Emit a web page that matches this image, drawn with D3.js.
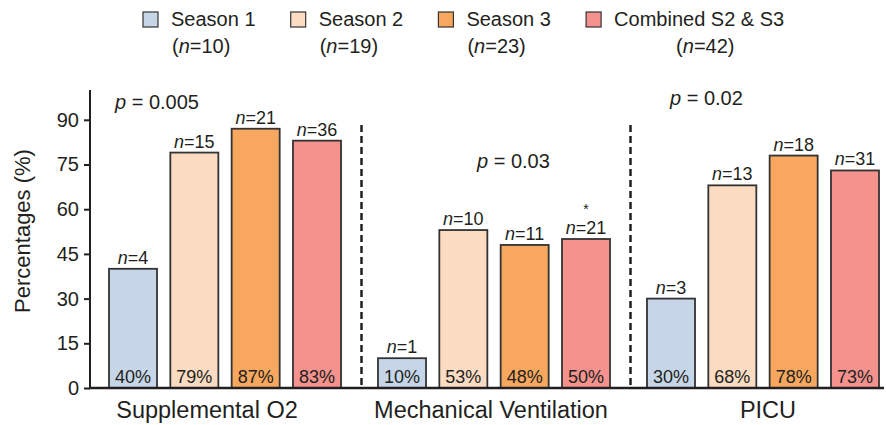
<!DOCTYPE html>
<html>
<head>
<meta charset="utf-8">
<script src="https://cdn.jsdelivr.net/npm/d3@7"></script>
<style>
  body { margin: 0; background: #fff; }
  text { font-family: "Liberation Sans", Arial, sans-serif; fill: #231f20; }
</style>
</head>
<body>
<div id="viz"></div>
<script>
// data
var categories = ['Supplemental O2', 'Mechanical Ventilation', 'PICU'];
var seriesNames = ['Season 1', 'Season 2', 'Season 3', 'Combined S2 & S3'];
var seriesTotals = [10, 19, 23, 42];
var season1 = [40, 10, 30];
var season2 = [79, 53, 68];
var season3 = [87, 48, 78];
var combined = [83, 50, 73];
var season1N = [4, 1, 3];
var season2N = [15, 10, 13];
var season3N = [21, 11, 18];
var combinedN = [36, 21, 31];
var pValues = ['0.005', '0.03', '0.02'];
var yTicks = [0, 15, 30, 45, 60, 75, 90];

var colors = ['#c6d6e8', '#fcdbc3', '#f8a85e', '#f5928e'];
var values = [season1, season2, season3, combined];
var counts = [season1N, season2N, season3N, combinedN];

var W = 886, H = 425;
var svg = d3.select('#viz').append('svg').attr('width', W).attr('height', H);

var y = d3.scaleLinear().domain([0, 100]).range([388, 90]);
var x0 = d3.scaleBand().domain(categories).range([109, 879]).paddingInner(0.1375);
var x1 = d3.scaleBand().domain(d3.range(seriesNames.length)).range([0, x0.bandwidth()]).paddingInner(0.217);

// flatten for drawing
var rows = [];
categories.forEach(function(c, ci) {
  seriesNames.forEach(function(s, si) {
    rows.push({ cat: c, ci: ci, si: si, v: values[si][ci], n: counts[si][ci] });
  });
});

// bars
svg.append('g').selectAll('rect').data(rows).enter().append('rect')
  .attr('x', function(d) { return x0(d.cat) + x1(d.si); })
  .attr('y', function(d) { return y(d.v); })
  .attr('width', x1.bandwidth())
  .attr('height', function(d) { return y(0) - y(d.v); })
  .attr('fill', function(d) { return colors[d.si]; })
  .attr('stroke', '#333')
  .attr('stroke-width', 1.8);

// percent labels inside bars
svg.append('g').selectAll('text').data(rows).enter().append('text')
  .attr('x', function(d) { return x0(d.cat) + x1(d.si) + x1.bandwidth() / 2; })
  .attr('y', 383)
  .attr('text-anchor', 'middle')
  .attr('font-size', 18)
  .text(function(d) { return d.v + '%'; });

// n labels above bars
var nl = svg.append('g').selectAll('text').data(rows).enter().append('text')
  .attr('x', function(d) { return x0(d.cat) + x1(d.si) + x1.bandwidth() / 2; })
  .attr('y', function(d) { return y(d.v) - 5; })
  .attr('text-anchor', 'middle')
  .attr('font-size', 18);
nl.append('tspan').attr('font-style', 'italic').text('n');
nl.append('tspan').text(function(d) { return '=' + d.n; });

// asterisk over combined mechanical ventilation
var star = rows.filter(function(d) { return d.ci === 1 && d.si === 3; })[0];
svg.append('text')
  .attr('x', x0(star.cat) + x1(star.si) + x1.bandwidth() / 2)
  .attr('y', y(star.v) - 25)
  .attr('text-anchor', 'middle')
  .attr('font-size', 14)
  .text('*');

// dashed separators
svg.append('g').selectAll('line').data(categories.slice(1)).enter().append('line')
  .attr('x1', function(c) { return x0(c) - x0.step() * x0.paddingInner() / 2 + 2; })
  .attr('x2', function(c) { return x0(c) - x0.step() * x0.paddingInner() / 2 + 2; })
  .attr('y1', 125).attr('y2', 388)
  .attr('stroke', '#231f20').attr('stroke-width', 2.5)
  .attr('stroke-dasharray', '7,4');

// p values
var pPos = [[115, 109], [477, 168], [670, 105]];
var pt = svg.append('g').selectAll('text').data(pValues).enter().append('text')
  .attr('x', function(d, i) { return pPos[i][0]; })
  .attr('y', function(d, i) { return pPos[i][1]; })
  .attr('font-size', 20);
pt.append('tspan').attr('font-style', 'italic').text('p');
pt.append('tspan').text(function(d) { return ' = ' + d; });

// y axis
var yAxis = svg.append('g').attr('transform', 'translate(90,0)')
  .call(d3.axisLeft(y).tickValues(yTicks).tickSize(6).tickPadding(5));
yAxis.select('.domain').attr('d', 'M0,' + y(100) + 'V' + y(0)).attr('stroke', '#231f20').attr('stroke-width', 2);
yAxis.selectAll('.tick line').attr('stroke', '#231f20').attr('stroke-width', 2);
yAxis.selectAll('.tick text').attr('font-size', 20).attr('font-family', '"Liberation Sans", Arial, sans-serif').attr('fill', '#231f20');

// x axis line
svg.append('line').attr('x1', 89).attr('x2', 884).attr('y1', y(0)).attr('y2', y(0))
  .attr('stroke', '#231f20').attr('stroke-width', 2.5);

// category labels (slightly off-centre in the original)
var catShift = [-18, -3, 5];
svg.append('g').selectAll('text').data(categories).enter().append('text')
  .attr('x', function(c, i) { return x0(c) + x0.bandwidth() / 2 + catShift[i]; })
  .attr('y', 418)
  .attr('text-anchor', 'middle')
  .attr('font-size', 23.5)
  .text(function(c) { return c; });

// y title
svg.append('text')
  .attr('transform', 'translate(30,231) rotate(-90)')
  .attr('text-anchor', 'middle')
  .attr('font-size', 22)
  .text('Percentages (%)');

// legend
var lg = svg.append('g').selectAll('g').data(seriesNames).enter().append('g')
  .attr('transform', function(d, i) { return 'translate(' + (143 + i * 147.7) + ',0)'; });
lg.append('rect').attr('x', 0).attr('y', 12).attr('width', 15).attr('height', 15)
  .attr('fill', function(d, i) { return colors[i]; })
  .attr('stroke', '#333').attr('stroke-width', 1.2);
lg.append('text').attr('x', 28).attr('y', 26).attr('font-size', 20).text(function(d) { return d; });
var sub = lg.append('text')
  .attr('x', function(d, i) { return i === 3 ? 90 : 29; })
  .attr('y', 53).attr('font-size', 20);
sub.append('tspan').text('(');
sub.append('tspan').attr('font-style', 'italic').text('n');
sub.append('tspan').text(function(d, i) { return '=' + seriesTotals[i] + ')'; });
</script>
</body>
</html>
